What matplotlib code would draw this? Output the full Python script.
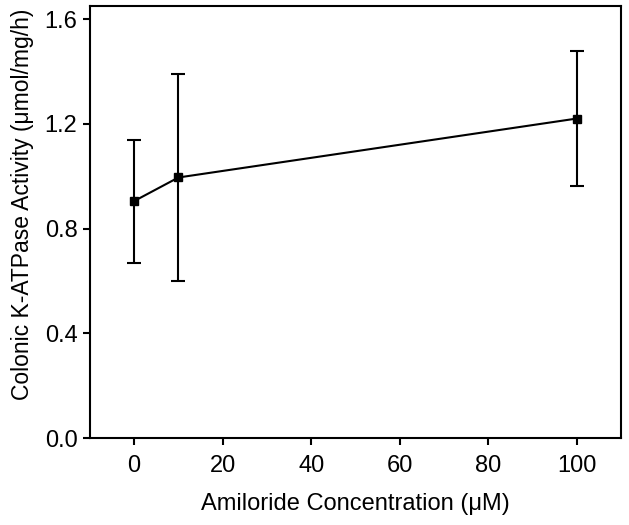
import matplotlib
matplotlib.use("Agg")
import matplotlib.pyplot as plt

plt.rcParams['font.family'] = ['Liberation Sans', 'DejaVu Sans']

# Amiloride concentration (uM) and colonic K-ATPase activity
conc = [0, 10, 100]
activity = [0.905, 0.995, 1.220]
err = [0.235, 0.397, 0.258]

fig = plt.figure(figsize=(6.29, 5.25), dpi=100)
ax = fig.add_axes([0.143, 0.1657, 0.844, 0.8229])

ax.errorbar(conc, activity, yerr=err, color='black', linewidth=1.5,
            elinewidth=1.5, capsize=5, capthick=1.5,
            marker='s', markersize=6)

ax.set_xlim(-10, 110)
ax.set_ylim(0, 1.65)
ax.set_xticks([0, 20, 40, 60, 80, 100])
ax.set_yticks([0.0, 0.4, 0.8, 1.2, 1.6])
ax.set_yticklabels(['0.0', '0.4', '0.8', '1.2', '1.6'])

for s in ax.spines.values():
    s.set_linewidth(1.5)
ax.tick_params(direction='out', length=5, width=1.5, labelsize=17,
               top=False, right=False)
ax.tick_params(axis='x', pad=7)
ax.tick_params(axis='y', pad=4)

ax.set_xlabel('Amiloride Concentration (\u03bcM)', fontsize=17, labelpad=12)
ax.set_ylabel('Colonic K-ATPase Activity (\u03bcmol/mg/h)', fontsize=16.5)
ax.yaxis.set_label_coords(-0.105, 0.54)

fig.savefig('out.png', dpi=100)
